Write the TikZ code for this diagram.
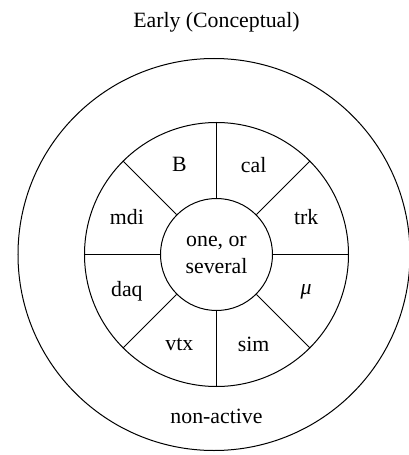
\documentclass[tikz,border=0pt]{standalone}
\usepackage{fontspec}
\setmainfont{Liberation Serif}
\usetikzlibrary{positioning,calc}

\begin{document}
\begin{tikzpicture}[x = 0.5pt, y = 0.5pt, font = \fontsize{10.9}{13.5}\selectfont,
  disc/.style = {draw, circle, inner sep = 0pt, line width = 0.5pt},
  spoke/.style = {line width = 0.5pt}]
\useasboundingbox (-216.5,-200.5) rectangle (191.5,254.5);
\node (title) at (0,232.5) {Early (Conceptual)};
% the three rings
\node[disc, minimum size = 196pt] (outer) at (-2.5,0) {};
\node[disc, minimum size = 132pt] (ring) at (0,0) {};
\node[disc, minimum size = 56pt, align = center] (core) at (0,0) {one, or\\several};
\foreach \a in {0,45,...,315}
  \draw[spoke] (core.\a) -- (ring.\a);
% sector labels
\foreach \a/\n/\t in {22.5/trk/trk, 67.5/cal/cal, 112.5/B/B, 157.5/mdi/mdi,
  202.5/daq/daq, 247.5/vtx/vtx, 292.5/sim/sim, 337.5/mu/\textit{μ}}
  \node (sec-\n) at (\a:97) {\t};
\node (nonactive) at (0,-161.5) {non-active};
\end{tikzpicture}
\end{document}
